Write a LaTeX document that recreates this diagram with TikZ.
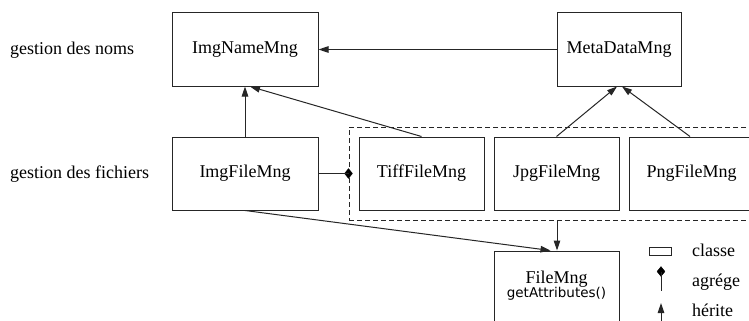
\documentclass[tikz,border=0pt]{standalone}
\usepackage{fontspec}
\setmainfont{Liberation Serif}
\newfontfamily\attrfont{DejaVu Sans}
\usetikzlibrary{arrows.meta,shapes.geometric}
\tikzset{
  classbox/.style={draw=black!85, line width=1pt, minimum height=73pt, inner sep=0pt, font=\fontsize{18}{20}\selectfont},
  lbl/.style={font=\fontsize{18}{20}\selectfont, inner sep=0pt},
  inh/.style={draw=black!85, line width=1pt, -{Triangle[length=10pt,width=6.5pt]}},
  conn/.style={draw=black!85, line width=1pt},
  aggdiamond/.style={diamond, fill=black, draw=black, inner sep=0pt, minimum width=8pt, minimum height=10pt, aspect=0.8},
}
\begin{document}
\begin{tikzpicture}[x=1pt,y=-1pt]
\useasboundingbox (0,0) rectangle (749,321);
\clip (0,0) rectangle (749,321);
\fill[white] (0,0) rectangle (749,321);

% row labels
\node[lbl, anchor=west] (lnoms) at (10,50) {gestion des noms};
\node[lbl, anchor=west] (lfich) at (10,174) {gestion des fichiers};

% group of file managers
\node[draw=black!85, line width=1pt, dash pattern=on 5pt off 3pt, minimum width=416pt, minimum height=93pt, inner sep=0pt] (grp) at (557,173.5) {};

% classes
\node[classbox, minimum width=146pt] (imgname) at (245,49.5) {ImgNameMng};
\node[classbox, minimum width=124pt] (meta) at (619,49.5) {MetaDataMng};
\node[classbox, minimum width=146pt] (imgfile) at (245,173.5) {ImgFileMng};
\node[classbox, minimum width=125pt] (tiff) at (421.5,173.5) {TiffFileMng};
\node[classbox, minimum width=125pt] (jpg) at (556.5,173.5) {JpgFileMng};
\node[classbox, minimum width=125pt] (png) at (691.5,173.5) {PngFileMng};
\node[classbox, minimum width=125pt] (filemng) at (556.5,287.5) {};
\node[lbl] (fmname) at (556.5,279) {FileMng};
\node[inner sep=0pt, font=\attrfont\fontsize{13.5}{14}\selectfont] (fmattr) at (556.5,294) {getAttributes()};

% connectors
\draw[inh] (meta.west) -- (imgname.east);
\draw[inh] (imgfile.north) -- (imgname.south);
\draw[inh] (tiff.north) -- ([xshift=5pt]imgname.south);
\draw[inh] (jpg.north) -- ([xshift=-2pt]meta.south);
\draw[inh] ([xshift=-1.5pt]png.north) -- ([xshift=3pt]meta.south);
\draw[inh] (grp.south) -- (grp.south |- filemng.north);
\draw[inh] (imgfile.south) -- ([xshift=-6pt]filemng.north);
\node[aggdiamond] (agg) at (grp.west |- imgfile.east) {};
\draw[conn] (imgfile.east) -- (agg.center);

% legend
\node[draw=black!85, line width=1pt, minimum width=22pt, minimum height=8pt, inner sep=0pt] (legcls) at (660,251) {};
\node[lbl, anchor=west] (tcls) at (692,250) {classe};
\node[aggdiamond] (legdia) at (661,271.5) {};
\coordinate (legaggend) at (661,291);
\draw[conn] (legdia.center) -- (legaggend);
\node[lbl, anchor=west] (tagg) at (692,282) {agrége};
\coordinate (leginhstart) at (661,325);
\coordinate (leginhend) at (661,303);
\draw[inh] (leginhstart) -- (leginhend);
\node[lbl, anchor=west] (tinh) at (692,310) {hérite};
\end{tikzpicture}
\end{document}
